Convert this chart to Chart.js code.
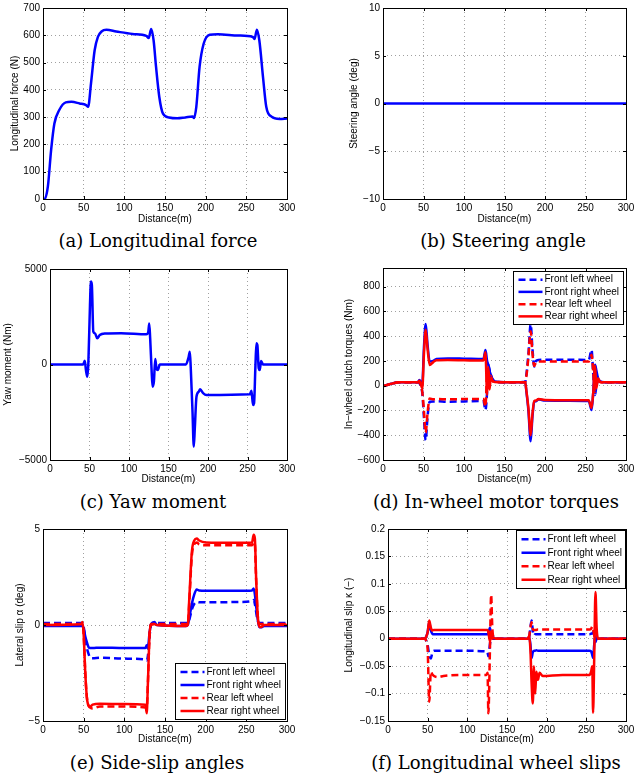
<!DOCTYPE html>
<html>
<head>
<meta charset="utf-8">
<script src="https://cdn.jsdelivr.net/npm/chart.js@4.4.1/dist/chart.umd.min.js"></script>
<style>
  html, body { margin: 0; background: #fff; }
  #page { position: relative; width: 634px; height: 776px; overflow: hidden; }
  canvas { position: absolute; }
  .caption {
    position: absolute;
    font-family: 'DejaVu Serif', serif;
    font-size: 18px;
    color: #000;
    white-space: nowrap;
    transform: translate(-50%, -50%);
  }
</style>
</head>
<body>
<div id="page">
  <canvas id="forceChart" width="317" height="228" style="left:0;top:0"></canvas>
  <canvas id="steerChart" width="317" height="228" style="left:317px;top:0"></canvas>
  <canvas id="yawChart" width="317" height="228" style="left:0;top:260px"></canvas>
  <canvas id="torqueChart" width="317" height="228" style="left:317px;top:260px"></canvas>
  <canvas id="alphaChart" width="317" height="228" style="left:0;top:520px"></canvas>
  <canvas id="kappaChart" width="317" height="228" style="left:317px;top:520px"></canvas>

  <div class="caption" style="left:158px;top:240px">(a) Longitudinal force</div>
  <div class="caption" style="left:503px;top:240px">(b) Steering angle</div>
  <div class="caption" style="left:153px;top:501px">(c) Yaw moment</div>
  <div class="caption" style="left:496px;top:501px">(d) In-wheel motor torques</div>
  <div class="caption" style="left:157px;top:762px">(e) Side-slip angles</div>
  <div class="caption" style="left:496px;top:762px">(f) Longitudinal wheel slips</div>
</div>
<script>
const BLUE = '#0000ff';
const RED = '#ff0000';
const GRID = '#a0a0a0';
const AXIS_FONT = { family: "'Liberation Sans', Arial, sans-serif", size: 10 };

const wheelLabels = ['Front left wheel', 'Front right wheel', 'Rear left wheel', 'Rear right wheel'];

// (a) longitudinal force
const forceDist = [0, 2, 6, 10, 14, 20, 28, 35, 45, 53, 55.5, 59, 63.5, 67.5, 72, 78, 90, 110, 127, 130,
  133, 136, 139, 143, 147.5, 155, 165, 175, 184, 185.6, 188.5, 192.5, 197.5, 205, 215, 240, 258, 260, 263, 266,
  270.5, 274.5, 281, 291, 300];
const forceN = [0, 0, 46, 180, 277, 326, 354, 356, 350, 344, 338, 423, 545, 594, 614, 620, 614, 605, 598, 590,
  623, 581, 484, 374, 313, 299, 296, 299, 302, 297, 338, 484, 569, 602, 604, 599, 594, 586, 620, 581,
  447, 338, 302, 293, 295];

// (b) steering angle
const steerDist = [0, 300];
const steerDeg = [0, 0];

// (c) yaw moment
const yawDist = [0, 42, 44, 45.5, 47.2, 48.5, 50.6, 51.8, 53, 54.8, 57, 59.8, 63, 70, 90, 122, 124.3, 125.6, 126.8, 128.5,
  129.8, 131.5, 133.2, 134.8, 136.5, 139, 172, 175.3, 177, 178.2, 180.4, 182, 183.3, 185.4, 188.4, 190, 193.8, 198, 252.8, 255,
  257, 258.3, 260, 261.3, 262.5, 264.2, 265.5, 267.2, 269.7, 300];
const yawNm = [0, 0, 200, -290, -640, 0, 3100, 4340, 4160, 1720, 1630, 1370, 1540, 1620, 1640, 1580, 1680, 2150, 1370, -200,
  -1160, -900, 290, -200, -290, 0, 0, 360, 670, -200, -2470, -4300, -3340, -1690, -1420, -1300, -1500, -1600, -1560, -1380,
  -2120, -2030, -110, 1110, 1020, -200, -290, 180, 0, 0];

// (d) in-wheel torques
const torqueDist = [0, 10, 20, 43, 45, 48.5, 50.5, 52.7, 55, 57.6, 62, 66, 80, 100, 124, 126.5, 128.5, 130, 131.5, 133,
  135, 138, 150, 170, 175.5, 177, 179.5, 182.3, 184.5, 186.7, 189, 192, 200, 230, 254, 257.5, 259.5, 261.8, 263.5, 265.5,
  268, 273, 300];
const torqueFL = [-5, 15, 27, 28, 20, -60, -250, -441, -250, -130, -128, -125, -130, -127, -124, -197, -50, 168, 130, 90,
  55, 35, 28, 28, 30, 87, 250, 495, 300, 154, 200, 208, 210, 210, 208, 289, 100, -75, 0, 40, 35, 28, 28];
const torqueFR = [-5, 15, 27, 28, 46, 10, 300, 497, 330, 195, 200, 216, 220, 218, 215, 289, 200, 168, 120, 90,
  55, 35, 28, 28, 30, -45, -200, -449, -250, -130, -125, -110, -120, -122, -124, -197, -60, 168, 120, 60, 35, 28, 28];
const torqueRL = [-5, 15, 27, 28, 25, -50, -200, -380, -220, -103, -110, -108, -110, -108, -108, -170, 100, 120, 60, 80,
  40, 30, 28, 28, 28, 75, 230, 440, 260, 160, 190, 195, 195, 195, 195, 250, 120, -50, 60, 40, 30, 28, 28];
const torqueRR = [-5, 15, 27, 28, 40, -20, 250, 451, 300, 167, 190, 205, 207, 205, 203, 270, -75, 150, -30, 60,
  40, 30, 28, 28, 28, -40, -180, -400, -230, -125, -120, -108, -115, -117, -118, -180, -60, 160, -20, 60, 30, 28, 28];

// (e) side-slip angles
const alphaDist = [0, 47, 48.5, 50, 52, 54, 56, 58, 61, 70, 100, 126, 127.5, 129, 131, 133, 137, 140, 176, 178,
  180, 183, 186, 189, 192, 200, 240, 257, 259, 260.5, 262, 264, 266, 268, 272, 300];
const alphaFL = [0.1, 0.1, 0.1, -0.1, -0.7, -1.2, -1.5, -1.7, -1.73, -1.7, -1.75, -1.8, -1.85, -1.6, -0.6, 0.05, 0.1, 0.1, 0.1, 0.1,
  0.3, 0.8, 1.1, 1.2, 1.18, 1.18, 1.2, 1.25, 1.3, 1.1, 0.7, 0.2, 0.1, 0.1, 0.1, 0.1];
const alphaFR = [-0.05, -0.05, 0, -0.2, -0.6, -0.9, -1.15, -1.2, -1.2, -1.18, -1.2, -1.2, -1.05, -1.2, -0.4, 0.05, 0.15, 0, -0.05, 0,
  0.4, 1.1, 1.6, 1.85, 1.8, 1.78, 1.78, 1.8, 1.9, 1.6, 1.0, 0.3, -0.1, -0.12, -0.05, -0.05];
const alphaRL = [0.05, 0.05, 0.1, -0.5, -2.5, -3.8, -4.2, -4.3, -4.35, -4.25, -4.25, -4.3, -4.35, -3.0, -0.5, 0.05, 0.05, 0.05, 0.05, 0,
  1.3, 3.6, 4.2, 4.3, 4.2, 4.15, 4.15, 4.15, 4.3, 4.2, 2.4, 0.5, 0.05, 0.05, 0.05, 0.05];
const alphaRR = [0, 0.05, 0.15, -0.5, -2.5, -3.8, -4.2, -4.25, -4.15, -4.1, -4.12, -4.15, -4.6, -3.0, -0.5, 0, 0.05, 0, -0.05, 0,
  1.5, 3.8, 4.4, 4.5, 4.4, 4.3, 4.28, 4.3, 4.7, 4.5, 2.5, 0.5, -0.1, -0.1, 0, 0];

// (f) longitudinal slips
const kappaDist = [0, 46, 48, 50, 52, 54, 56, 58, 63, 70, 100, 124, 125.5, 126.5, 128.5, 130, 131.5, 133, 136, 176,
  178, 179.5, 181, 182.5, 184, 185.5, 187, 189, 191, 195, 220, 254, 256, 257.5, 258.5, 260, 261.5, 263, 265, 268, 300];
const kappaFL = [0, 0, -0.003, -0.012, -0.03, -0.036, -0.025, -0.022, -0.022, -0.022, -0.022, -0.023, -0.025, -0.032, -0.01, 0.006, 0.008, 0.003, 0, 0,
  0.003, 0.02, 0.033, 0.015, 0.006, 0.008, 0.008, 0.008, 0.008, 0.008, 0.008, 0.008, 0.009, 0.01, 0.012, 0.005, -0.006, 0, 0, 0, 0];
const kappaFR = [0, 0, 0.003, 0.012, 0.03, 0.015, 0.009, 0.008, 0.008, 0.008, 0.008, 0.008, 0.008, 0.01, 0.02, 0.008, 0, 0, 0, 0,
  0.002, -0.01, -0.035, -0.025, -0.022, -0.022, -0.021, -0.022, -0.022, -0.022, -0.022, -0.022, -0.023, -0.03, -0.035, -0.01, 0.004, 0, 0, 0, 0];
const kappaRL = [0, 0, -0.003, -0.02, -0.115, -0.06, -0.065, -0.068, -0.07, -0.068, -0.066, -0.066, -0.062, -0.136, -0.02, 0.08, 0.02, 0.002, 0, 0,
  0.005, 0.02, 0.03, 0.018, 0.016, 0.016, 0.016, 0.017, 0.017, 0.017, 0.017, 0.017, 0.018, 0.022, 0.018, 0.006, 0, 0, 0, 0, 0];
const kappaRR = [0, 0, 0.003, 0.012, 0.033, 0.02, 0.015, 0.016, 0.016, 0.016, 0.016, 0.016, 0.016, 0.012, -0.005, 0.01, 0, 0.002, 0, 0,
  0.005, -0.02, -0.08, -0.118, -0.05, -0.1, -0.06, -0.075, -0.062, -0.068, -0.066, -0.066, -0.06, -0.05, -0.135, -0.03, 0.085, 0.02, 0, 0, 0];

function points(xs, ys) {
  return xs.map((x, i) => ({ x, y: ys[i] }));
}

function line(label, xs, ys, color, dashed, order) {
  return {
    label,
    data: points(xs, ys),
    borderColor: color,
    borderWidth: 2.5,
    borderDash: dashed ? [7, 4] : [],
    order,
    fill: false,
  };
}

function wheelLines(xs, fl, fr, rl, rr) {
  return [
    line(wheelLabels[0], xs, fl, BLUE, true, 4),
    line(wheelLabels[1], xs, fr, BLUE, false, 3),
    line(wheelLabels[2], xs, rl, RED, true, 2),
    line(wheelLabels[3], xs, rr, RED, false, 1),
  ];
}

function tickLabel(v) {
  const r = Math.round(v * 1000) / 1000;
  return r < 0 ? '\u2212' + Math.abs(r) : String(r);
}

// black frame plus small inward ticks, matlab style
const framePlugin = {
  id: 'frame',
  afterDatasetsDraw(chart) {
    const { ctx, chartArea: a, scales } = chart;
    ctx.save();
    ctx.strokeStyle = '#000';
    ctx.lineWidth = 1;
    ctx.beginPath();
    scales.x.ticks.forEach(t => {
      const px = Math.round(scales.x.getPixelForValue(t.value)) + 0.5;
      ctx.moveTo(px, a.bottom); ctx.lineTo(px, a.bottom - 3);
      ctx.moveTo(px, a.top); ctx.lineTo(px, a.top + 3);
    });
    scales.y.ticks.forEach(t => {
      const py = Math.round(scales.y.getPixelForValue(t.value)) + 0.5;
      ctx.moveTo(a.left, py); ctx.lineTo(a.left + 3, py);
      ctx.moveTo(a.right, py); ctx.lineTo(a.right - 3, py);
    });
    ctx.stroke();
    ctx.strokeRect(a.left + 0.5, a.top + 0.5, a.right - a.left, a.bottom - a.top);
    ctx.restore();
  }
};

const boxLegend = {
  id: 'boxLegend',
  afterDraw(chart, args, opts) {
    if (!opts.corner) return;
    const { ctx, chartArea: a } = chart;
    const w = opts.width, h = opts.height;
    const x = Math.round(a.right - opts.inset - w) + 0.5;
    const y = Math.round(opts.corner === 'ne' ? a.top + opts.inset : a.bottom - opts.inset - h) + 0.5;
    ctx.save();
    ctx.fillStyle = '#fff';
    ctx.fillRect(x, y, w, h);
    ctx.strokeStyle = '#000';
    ctx.lineWidth = 1;
    ctx.strokeRect(x, y, w, h);
    const rowH = (h - 4) / chart.data.datasets.length;
    ctx.font = `${AXIS_FONT.size}px ${AXIS_FONT.family}`;
    ctx.textBaseline = 'middle';
    chart.data.datasets.forEach((ds, i) => {
      const cy = y + 2 + rowH * (i + 0.5);
      ctx.strokeStyle = ds.borderColor;
      ctx.lineWidth = 2.5;
      ctx.setLineDash(ds.borderDash);
      ctx.beginPath();
      ctx.moveTo(x + 5, cy);
      ctx.lineTo(x + 29, cy);
      ctx.stroke();
      ctx.setLineDash([]);
      ctx.fillStyle = '#000';
      ctx.fillText(ds.label, x + 31, cy);
    });
    ctx.restore();
  }
};

function makeChart(id, area, yAxis, datasets, legend) {
  const canvas = document.getElementById(id);
  const W = canvas.width, H = canvas.height;
  return new Chart(canvas, {
    type: 'line',
    data: { datasets },
    options: {
      responsive: false,
      animation: false,
      layout: { padding: { left: 0, top: area.t, right: W - area.r, bottom: 0 } },
      elements: { point: { radius: 0 }, line: { cubicInterpolationMode: 'monotone' } },
      plugins: {
        legend: { display: false },
        tooltip: { enabled: false },
        boxLegend: legend || {},
      },
      scales: {
        x: {
          type: 'linear',
          min: 0,
          max: 300,
          ticks: { stepSize: 50, padding: 3, color: '#000', font: AXIS_FONT, maxRotation: 0, callback: tickLabel },
          grid: { color: GRID, drawTicks: false },
          border: { display: false, dash: [1, 3] },
          title: { display: true, text: 'Distance(m)', color: '#000', font: AXIS_FONT, padding: { top: 0, bottom: 3 } },
          afterFit(s) { s.height = H - area.b; s.paddingLeft = 0; s.paddingRight = 0; },
        },
        y: {
          type: 'linear',
          min: yAxis.min,
          max: yAxis.max,
          ticks: { stepSize: yAxis.step, includeBounds: false, padding: 3, color: '#000', font: AXIS_FONT, callback: tickLabel },
          grid: { color: GRID, drawTicks: false },
          border: { display: false, dash: [1, 3] },
          title: { display: true, text: yAxis.title, color: '#000', font: AXIS_FONT, padding: { top: area.yt, bottom: 0 } },
          afterFit(s) { s.width = area.l; s.paddingTop = 0; s.paddingBottom = 0; },
        },
      },
    },
    plugins: [framePlugin, boxLegend],
  });
}

makeChart('forceChart', { l: 43, t: 8, r: 287, b: 199, yt: 9 },
  { min: 0, max: 700, step: 100, title: 'Longitudinal force (N)' },
  [line('Force', forceDist, forceN, BLUE, false, 1)]);

makeChart('steerChart', { l: 66, t: 8, r: 309, b: 199, yt: 31 },
  { min: -10, max: 10, step: 5, title: 'Steering angle (deg)' },
  [line('Steering', steerDist, steerDeg, BLUE, false, 1)]);

makeChart('yawChart', { l: 50, t: 9, r: 287, b: 200, yt: 2 },
  { min: -5000, max: 5000, step: 5000, title: 'Yaw moment (Nm)' },
  [line('Yaw', yawDist, yawNm, BLUE, false, 1)]);

makeChart('torqueChart', { l: 66, t: 8, r: 309, b: 200, yt: 26 },
  { min: -600, max: 950, step: 200, title: 'In\u2212wheel clutch torques (Nm)' },
  wheelLines(torqueDist, torqueFL, torqueFR, torqueRL, torqueRR),
  { corner: 'ne', width: 110, height: 53, inset: 3 });

makeChart('alphaChart', { l: 43, t: 9, r: 287, b: 201, yt: 14 },
  { min: -5, max: 5, step: 5, title: 'Lateral slip \u03b1 (deg)' },
  wheelLines(alphaDist, alphaFL, alphaFR, alphaRL, alphaRR),
  { corner: 'se', width: 110, height: 56, inset: 2 });

makeChart('kappaChart', { l: 71, t: 9, r: 309, b: 201, yt: 26 },
  { min: -0.15, max: 0.2, step: 0.05, title: 'Longitudinal slip \u03ba (\u2212)' },
  wheelLines(kappaDist, kappaFL, kappaFR, kappaRL, kappaRR),
  { corner: 'ne', width: 109, height: 58, inset: 1 });
</script>
</body>
</html>
